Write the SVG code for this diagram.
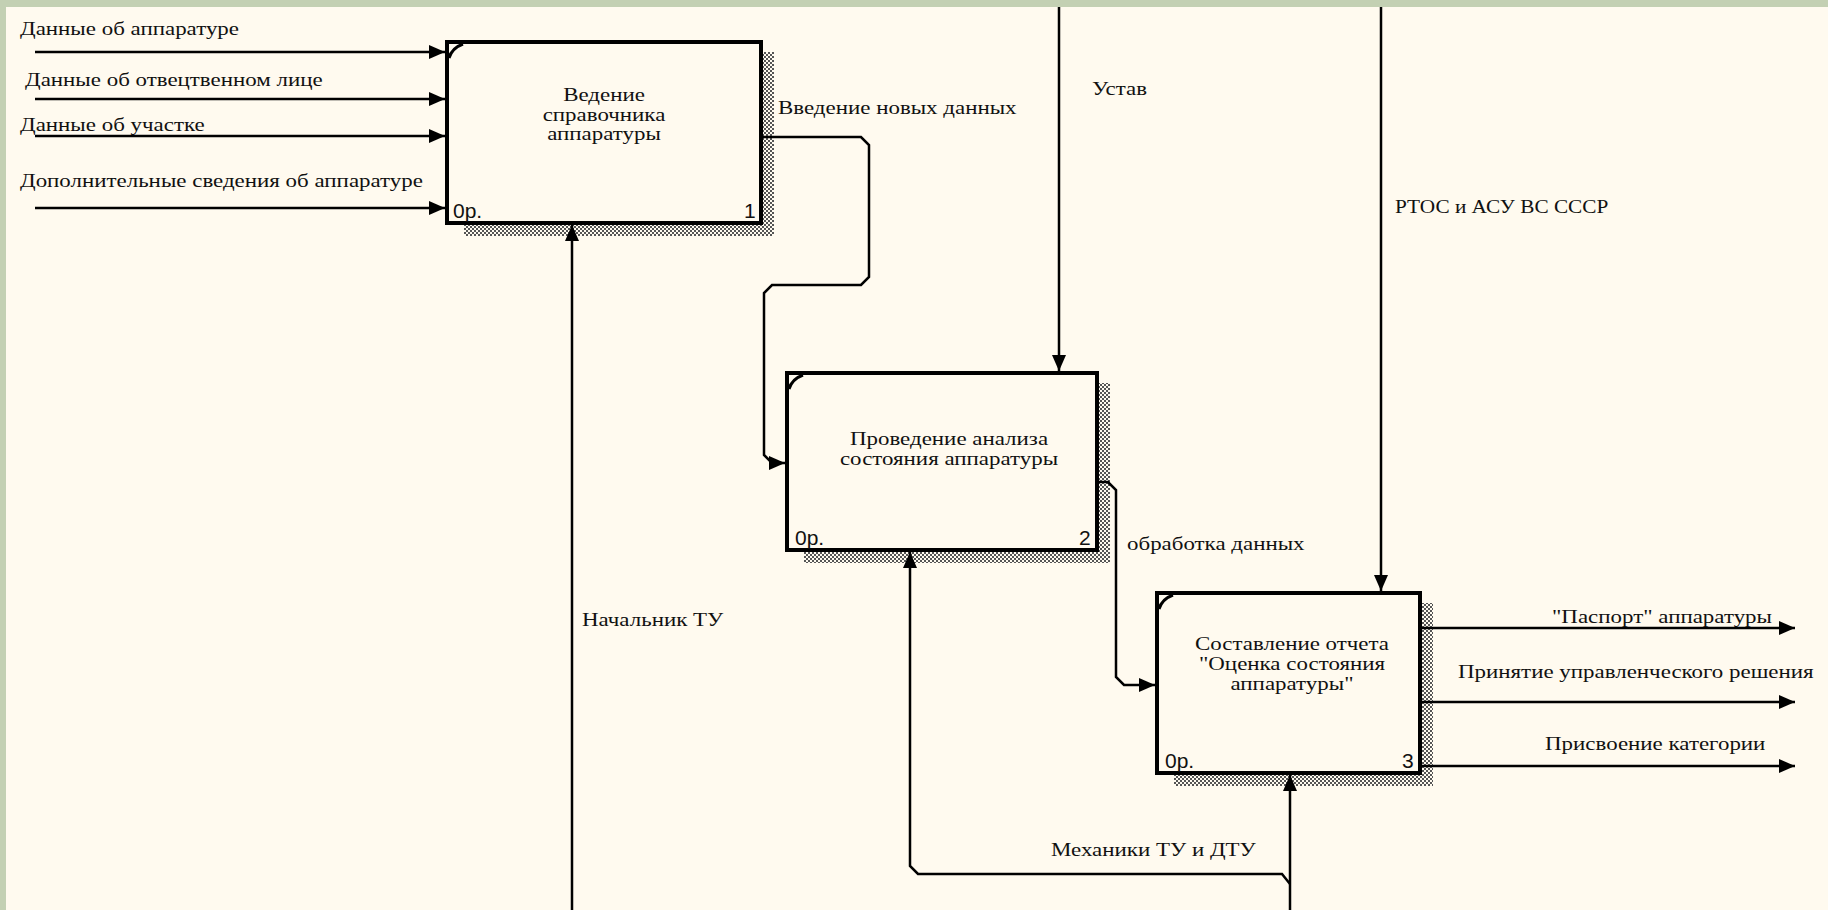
<svg xmlns="http://www.w3.org/2000/svg" width="1828" height="910" viewBox="0 0 1828 910">
<style>
.bg{fill:#fffaef}
.frame{fill:#c3d0b3}
.box{fill:#fffaef;stroke:#000;stroke-width:4}
.shadow{fill:url(#hatch)}
.corner{fill:none;stroke:#000;stroke-width:3}
.t{font-family:"Liberation Serif","Times New Roman",serif;font-size:18.5px;fill:#111}
.c{text-anchor:middle}
.n{font-family:"Liberation Sans",Arial,sans-serif;font-size:21px;fill:#111}
.ln{fill:none;stroke:#000;stroke-width:2.5}
.arr{marker-end:url(#ah)}
</style>
<defs>
<pattern id="hatch" width="4" height="4" patternUnits="userSpaceOnUse">
<rect width="4" height="4" fill="#fffaef"/>
<rect x="0" y="0" width="2" height="2" fill="#555"/>
<rect x="2" y="2" width="2" height="2" fill="#555"/>
</pattern>
<marker id="ah" markerUnits="userSpaceOnUse" markerWidth="18" markerHeight="16" refX="16" refY="7" orient="auto">
<path d="M0,0 L16,7 L0,14 Z" fill="#000"/>
</marker>
</defs>
<rect class="bg" x="0" y="0" width="1828" height="910"/>
<rect class="frame" x="0" y="0" width="1828" height="7"/>
<rect class="frame" x="0" y="0" width="6" height="910"/>

<g id="node1">
<rect class="shadow" x="464" y="52" width="310" height="184"/>
<rect class="box" x="447" y="42" width="314" height="181"/>
<path class="corner" d="M449,58 Q452,48 463,44"/>
<text class="t c" transform="translate(604,101) scale(1.24,1)">Ведение</text>
<text class="t c" transform="translate(604,121) scale(1.24,1)">справочника</text>
<text class="t c" transform="translate(604,140) scale(1.24,1)">аппаратуры</text>
<text class="n" x="453" y="218">0р.</text>
<text class="n" x="744" y="218">1</text>
</g>

<g id="node2">
<rect class="shadow" x="804" y="383" width="306" height="180"/>
<rect class="box" x="787" y="373" width="310" height="177"/>
<path class="corner" d="M789,389 Q792,379 803,375"/>
<text class="t c" transform="translate(949,445) scale(1.24,1)">Проведение анализа</text>
<text class="t c" transform="translate(949,465) scale(1.24,1)">состояния аппаратуры</text>
<text class="n" x="795" y="545">0р.</text>
<text class="n" x="1079" y="545">2</text>
</g>

<g id="node3">
<rect class="shadow" x="1174" y="603" width="259" height="183"/>
<rect class="box" x="1157" y="593" width="263" height="180"/>
<path class="corner" d="M1159,609 Q1162,599 1173,595"/>
<text class="t c" transform="translate(1292,650) scale(1.24,1)">Составление отчета</text>
<text class="t c" transform="translate(1292,670) scale(1.24,1)">"Оценка состояния</text>
<text class="t c" transform="translate(1292,690) scale(1.24,1)">аппаратуры"</text>
<text class="n" x="1165" y="768">0р.</text>
<text class="n" x="1402" y="768">3</text>
</g>

<g id="connectors">
<path class="ln arr" d="M35,52 H445"/>
<path class="ln arr" d="M35,99 H445"/>
<path class="ln arr" d="M35,136 H445"/>
<path class="ln arr" d="M35,208 H445"/>
<path class="ln arr" d="M763,137 H861 L869,145 V277 L861,285 H772 L764,293 V455 L772,463 H785"/>
<path class="ln arr" d="M1059,7 V371"/>
<path class="ln arr" d="M1381,7 V591"/>
<path class="ln arr" d="M1099,482 H1108 L1116,490 V677 L1124,685 H1155"/>
<path class="ln arr" d="M572,910 V225"/>
<path class="ln arr" d="M1290,910 V775"/>
<path class="ln arr" d="M1290,884 L1282,874 H918 L910,866 V552"/>
<path class="ln arr" d="M1422,628 H1795"/>
<path class="ln arr" d="M1422,702 H1795"/>
<path class="ln arr" d="M1422,766 H1795"/>
</g>

<g id="labels">
<text class="t" transform="translate(20,35) scale(1.24,1)">Данные об аппаратуре</text>
<text class="t" transform="translate(25,86) scale(1.24,1)">Данные об отвецтвенном лице</text>
<text class="t" transform="translate(20,131) scale(1.24,1)">Данные об участке</text>
<text class="t" transform="translate(20,187) scale(1.24,1)">Дополнительные сведения об аппаратуре</text>
<text class="t" transform="translate(778,114) scale(1.24,1)">Введение новых данных</text>
<text class="t" transform="translate(1092,95) scale(1.24,1)">Устав</text>
<text class="t" transform="translate(1395,213) scale(1.24,1)" textLength="172" lengthAdjust="spacingAndGlyphs">РТОС и АСУ ВС СССР</text>
<text class="t" transform="translate(1127,550) scale(1.24,1)">обработка данных</text>
<text class="t" transform="translate(582,626) scale(1.24,1)">Начальник ТУ</text>
<text class="t" transform="translate(1051,856) scale(1.24,1)">Механики ТУ и ДТУ</text>
<text class="t" transform="translate(1552,623) scale(1.24,1)">"Паспорт" аппаратуры</text>
<text class="t" transform="translate(1458,678) scale(1.24,1)">Принятие управленческого решения</text>
<text class="t" transform="translate(1545,750) scale(1.24,1)">Присвоение категории</text>
</g>
</svg>
